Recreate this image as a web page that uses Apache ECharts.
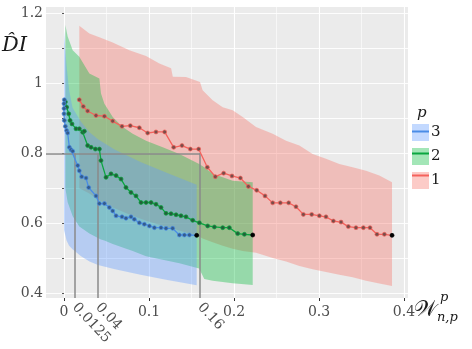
<!DOCTYPE html>
<html><head><meta charset="utf-8">
<script src="https://cdn.jsdelivr.net/npm/echarts@6/dist/echarts.min.js"></script>
<style>html,body{margin:0;padding:0;background:#fff}#c{width:472px;height:349px}</style>
</head><body><div id="c"></div>
<script>
// ---- data ----
const seriesNames = ['1', '2', '3'];
const legendOrder = ['3', '2', '1'];

// p = 1
const x1 = [0.018,0.0227,0.0278,0.0376,0.0475,0.0573,0.0682,0.078,0.0886,0.0984,0.1082,0.1184,0.129,0.1388,0.1486,0.1584,0.1686,0.178,0.1878,0.1976,0.2075,0.2169,0.2267,0.2365,0.2455,0.2545,0.2643,0.2729,0.2816,0.2914,0.3004,0.3082,0.3169,0.3259,0.3345,0.3435,0.3522,0.36,0.3682,0.3769,0.3859];
const y1 = [0.953,0.934,0.921,0.908,0.906,0.892,0.877,0.879,0.873,0.858,0.861,0.861,0.817,0.822,0.812,0.812,0.760,0.733,0.743,0.735,0.729,0.705,0.694,0.678,0.658,0.658,0.658,0.647,0.625,0.625,0.621,0.618,0.606,0.603,0.590,0.587,0.587,0.587,0.568,0.568,0.565];
const band1X = [0.018,0.0298,0.0416,0.0573,0.0769,0.0965,0.1122,0.126,0.128,0.1435,0.16,0.1631,0.1749,0.1867,0.1984,0.2102,0.2259,0.2455,0.2612,0.2769,0.2925,0.3082,0.3239,0.3396,0.3553,0.371,0.3859];
const band1Hi = [1.165,1.143,1.132,1.117,1.095,1.078,1.057,1.043,1.019,1.018,1.004,0.980,0.952,0.932,0.923,0.904,0.875,0.856,0.836,0.822,0.798,0.784,0.769,0.760,0.750,0.736,0.717];
const band1Lo = [0.70,0.685,0.665,0.645,0.625,0.607,0.595,0.585,0.584,0.573,0.56,0.556,0.545,0.535,0.527,0.52,0.515,0.50,0.49,0.477,0.468,0.46,0.452,0.445,0.435,0.427,0.42];

// p = 2
const x2 = [0.0016,0.0031,0.0055,0.0071,0.0094,0.0141,0.018,0.022,0.0239,0.0278,0.0318,0.0369,0.0416,0.0435,0.0494,0.0553,0.0612,0.0671,0.0729,0.0788,0.0847,0.0906,0.0965,0.1024,0.1082,0.1141,0.12,0.1259,0.1318,0.1376,0.1435,0.1514,0.1592,0.169,0.1769,0.1867,0.1945,0.2043,0.2122,0.222];
const y2 = [0.947,0.932,0.913,0.894,0.884,0.870,0.870,0.860,0.863,0.822,0.817,0.812,0.812,0.779,0.731,0.741,0.736,0.726,0.702,0.688,0.678,0.659,0.659,0.659,0.654,0.645,0.628,0.627,0.624,0.621,0.618,0.608,0.601,0.592,0.589,0.587,0.587,0.570,0.568,0.566];
const band2X = [0.0016,0.0043,0.0102,0.018,0.0298,0.0416,0.0435,0.0475,0.0573,0.069,0.0808,0.0965,0.1161,0.1357,0.159,0.165,0.1749,0.1984,0.222];
const band2Hi = [1.167,1.134,1.095,1.076,1.028,1.014,0.971,0.942,0.904,0.875,0.856,0.836,0.817,0.798,0.769,0.76,0.741,0.721,0.717];
const band2Lo = [0.70,0.66,0.62,0.59,0.57,0.555,0.553,0.55,0.54,0.53,0.52,0.505,0.495,0.485,0.47,0.44,0.435,0.428,0.423];

// p = 3
const x3 = [0.0004,0,0,0,0.0004,0.0016,0.0031,0.0043,0.0063,0.0082,0.0102,0.0161,0.018,0.0208,0.0259,0.029,0.0376,0.0416,0.0475,0.0533,0.0573,0.0612,0.0682,0.0729,0.0788,0.0827,0.0886,0.0945,0.1004,0.1063,0.1141,0.12,0.1278,0.1357,0.1416,0.1475,0.1561];
const y3 = [0.953,0.942,0.928,0.913,0.894,0.877,0.865,0.858,0.817,0.810,0.806,0.765,0.750,0.733,0.729,0.702,0.678,0.656,0.656,0.645,0.635,0.621,0.618,0.614,0.618,0.611,0.601,0.597,0.592,0.587,0.587,0.585,0.585,0.566,0.566,0.566,0.565];
const band3X = [0,0.003,0.006,0.01,0.02,0.03,0.04,0.06,0.09,0.12,0.1561];
const band3Hi = [1.15,1.05,0.98,0.93,0.89,0.86,0.84,0.81,0.775,0.745,0.71];
const band3Lo = [0.58,0.55,0.535,0.525,0.505,0.49,0.48,0.468,0.452,0.438,0.422];

// axes / annotations
const xTicks = [0, 0.1, 0.2, 0.3, 0.4];
const xMinorGrid = [0.05, 0.15, 0.25, 0.35];
const xMarkTicks = [0.0125, 0.04, 0.16];
const yLabels = [0.4, 0.6, 0.8, 1.0, 1.2];
const yTicks = [0.4, 0.5, 0.6, 0.7, 0.8, 0.9, 1.0, 1.1, 1.2];
const thresholdY = 0.8;
const xRange = [-0.0212, 0.4047];
const yRange = [0.3857, 1.2186];

// ---- styling ----
const FONT = '"DejaVu Serif", "Liberation Serif", serif';
const lineColors = {'1': '#F5625C', '2': '#0AA640', '3': '#4A8CE6'};
const pointColors = {'1': '#7a4d49', '2': '#22603a', '3': '#335c8c'};
const bandColors = {'1': 'rgba(248,118,109,0.38)', '2': 'rgba(0,186,56,0.36)', '3': 'rgba(97,156,255,0.38)'};

const chart = echarts.init(document.getElementById('c'), null, {renderer: 'canvas'});

function bandSeries(name, xs, lo, hi) {
  return {
    type: 'custom', name: 'band' + name, silent: true, z: 1,
    coordinateSystem: 'cartesian2d', xAxisIndex: 0, yAxisIndex: 0,
    data: [[xs[0], lo[0]]],
    renderItem: function (params, api) {
      const pts = [];
      for (let i = 0; i < xs.length; i++) pts.push(api.coord([xs[i], hi[i]]));
      for (let i = xs.length - 1; i >= 0; i--) pts.push(api.coord([xs[i], lo[i]]));
      return {type: 'polygon', shape: {points: pts}, style: {fill: bandColors[name]}};
    }
  };
}

function lineSeries(name, xs, ys, extra) {
  const data = xs.map((x, i) => {
    const item = {value: [x, ys[i]]};
    if (i === xs.length - 1) item.itemStyle = {color: '#000', borderColor: '#000'};
    return item;
  });
  return Object.assign({
    type: 'line', name: name, data: data, z: 5,
    symbol: 'circle', symbolSize: 4, showSymbol: true,
    lineStyle: {color: lineColors[name], width: 1.3},
    itemStyle: {color: pointColors[name], borderColor: lineColors[name], borderWidth: 0.7},
    emphasis: {disabled: true}
  }, extra || {});
}

const markLineData = [
  [{coord: [xRange[0], thresholdY]}, {coord: [xMarkTicks[2], thresholdY]}]
].concat(xMarkTicks.map(v => [{coord: [v, thresholdY]}, {coord: [v, yRange[0]]}]));

const legendCommon = {
  orient: 'vertical', left: 412, top: 124, itemWidth: 17, itemHeight: 17, itemGap: 7,
  selectedMode: false, padding: 0
};

const option = {
  backgroundColor: '#ffffff',
  animation: false,
  grid: {left: 46, right: 64, top: 7, bottom: 51, show: true, backgroundColor: '#EBEBEB', borderWidth: 0},
  xAxis: [
    {
      type: 'value', min: xRange[0], max: xRange[1], position: 'bottom',
      axisLine: {show: false},
      axisTick: {show: true, customValues: xTicks, length: 3, lineStyle: {color: '#333'}},
      axisLabel: {customValues: xTicks, fontFamily: FONT, fontSize: 14, color: '#4d4d4d', margin: 7},
      splitLine: {show: true, lineStyle: {color: '#ffffff', width: 1.1}}
    },
    {
      type: 'value', min: xRange[0], max: xRange[1], position: 'bottom',
      axisLine: {show: false},
      axisTick: {show: false, customValues: xMinorGrid},
      axisLabel: {show: false},
      splitLine: {show: true, lineStyle: {color: '#ffffff', width: 0.6}}
    },
    {
      type: 'value', min: xRange[0], max: xRange[1], position: 'bottom',
      axisLine: {show: false},
      axisTick: {show: false, customValues: xMarkTicks},
      axisLabel: {customValues: xMarkTicks, rotate: -47, fontFamily: FONT, fontSize: 14, color: '#4d4d4d', margin: 7},
      splitLine: {show: false}
    }
  ],
  yAxis: [
    {
      type: 'value', min: yRange[0], max: yRange[1],
      axisLine: {show: false},
      axisTick: {show: true, customValues: yTicks, length: 2, lineStyle: {color: '#555'}},
      axisLabel: {customValues: yLabels, fontFamily: FONT, fontSize: 14, color: '#4d4d4d', margin: 3},
      splitLine: {show: true, lineStyle: {color: '#ffffff', width: 0.9}}
    }
  ],
  legend: [
    Object.assign({}, legendCommon, {
      icon: 'rect',
      data: legendOrder.map(n => ({name: n, itemStyle: {color: bandColors[n], borderWidth: 0}})),
      textStyle: {fontFamily: FONT, fontSize: 15, color: '#1a1a1a', padding: [0, 0, 0, -3]}
    }),
    Object.assign({}, legendCommon, {
      icon: 'path://M0,0H17V2H0Z',
      data: legendOrder.map(n => ({name: n, itemStyle: {color: lineColors[n], borderWidth: 0}})),
      textStyle: {fontFamily: FONT, fontSize: 15, color: 'rgba(0,0,0,0)', padding: [0, 0, 0, -3]}
    })
  ],
  graphic: [
    {type: 'text', left: 2, top: 35, style: {text: 'D\u0302I', font: 'italic 21px ' + FONT, fill: '#1a1a1a'}},
    {type: 'text', left: 417, top: 106, style: {text: 'p', font: 'italic 15px ' + FONT, fill: '#1a1a1a'}},
    {type: 'text', left: 414, top: 299, style: {text: '\uD835\uDCB2', font: '22px "DejaVu Sans", "Noto Sans", serif', fill: '#1a1a1a'}},
    {type: 'text', left: 440, top: 291, style: {text: 'p', font: 'italic 13px ' + FONT, fill: '#1a1a1a'}},
    {type: 'text', left: 437, top: 311, style: {text: 'n,p', font: 'italic 13px ' + FONT, fill: '#1a1a1a'}}
  ],
  series: [
    bandSeries('1', band1X, band1Lo, band1Hi),
    bandSeries('2', band2X, band2Lo, band2Hi),
    bandSeries('3', band3X, band3Lo, band3Hi),
    lineSeries('1', x1, y1, {
      markLine: {
        silent: true, symbol: ['none', 'none'], label: {show: false},
        lineStyle: {color: '#8a8a8a', width: 1.5, type: 'solid'},
        emphasis: {disabled: true},
        data: markLineData
      }
    }),
    lineSeries('2', x2, y2),
    lineSeries('3', x3, y3)
  ]
};
chart.setOption(option);
</script>
</body></html>
